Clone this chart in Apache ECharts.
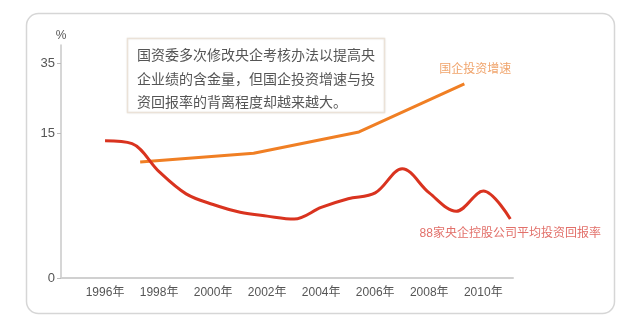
<!DOCTYPE html>
<html><head><meta charset="utf-8">
<script src="https://cdn.jsdelivr.net/npm/echarts@6/dist/echarts.min.js"></script>
<style>html,body{margin:0;padding:0;background:#fff}#c{width:640px;height:326px}</style>
</head><body><div id="c"></div>
<script>
// ---- data ----
var redName = '88家央企控股公司平均投资回报率';
var redYears = [1996,1997,1998,1999,2000,2001,2002,2003,2004,2005,2006,2007,2008,2009,2010,2011];
var redValues = [14.2,13.9,11.0,8.7,7.6,6.8,6.4,6.1,7.3,8.2,8.8,11.3,8.8,6.9,9.0,6.1];
var orangeName = '国企投资增速';
var orangeYears = [1997.3,2001.5,2005.4,2009.3];
var orangeValues = [12.0,12.9,15.3,29.0];
var yTicks = [0,15,35];
var xTickYears = [1996,1998,2000,2002,2004,2006,2008,2010];
var noteLines = ['国资委多次修改央企考核办法以提高央','企业绩的含金量，但国企投资增速与投','资回报率的背离程度却越来越大。'];

// piecewise (broken) scale of the original axis: 0–15 stretched, above 15 compressed
var BREAK = 15, UPPER = 3.5/9.667;
function disp(v){ return v <= BREAK ? v : BREAK + (v-BREAK)*UPPER; }
function undisp(d){ return d <= BREAK ? d : BREAK + (d-BREAK)/UPPER; }

var FONT = '"Liberation Sans","Noto Sans CJK SC",sans-serif';
var chart = echarts.init(document.getElementById('c'));

var redData = redYears.map(function(y,i){ return [y, disp(redValues[i])]; });
redData[redData.length-1] = {value: redData[redData.length-1], label:{show:true, position:'bottom', distance:9,
  formatter: redName, color:'#e2706a', fontSize:12, fontFamily:FONT}};
var orData = orangeYears.map(function(y,i){ return [y, disp(orangeValues[i])]; });
orData[orData.length-1] = {value: orData[orData.length-1], label:{show:true, position:'top', distance:8, offset:[11,0],
  formatter: orangeName, color:'#f0a46c', fontSize:12, fontFamily:FONT}};

chart.setOption({
  animation:false,
  backgroundColor:'#fff',
  grid:{left:61, right:127, top:45, bottom:48},
  graphic:[
    {type:'rect', z:-10, shape:{x:26.5,y:13.5,width:588,height:300,r:12},
     style:{fill:'#fff', stroke:'#d6d6d6', lineWidth:1.5}},
    {type:'rect', z:-5, shape:{x:127.5,y:38.5,width:257,height:74},
     style:{fill:'#fff', stroke:'#ebe2d8', lineWidth:1.5, shadowBlur:2, shadowColor:'rgba(0,0,0,0.06)'}},
    {type:'text', left:137, top:43, z:5,
     style:{text: noteLines.join('\n'), fill:'#555', font:'14px "Noto Sans CJK SC",sans-serif', lineHeight:23.5}}
  ],
  xAxis:{type:'value', min:1994.37, max:2011.1,
    axisLine:{show:true, lineStyle:{color:'#d0d0d0', width:2}},
    axisTick:{show:false},
    splitLine:{show:false},
    axisLabel:{customValues:xTickYears, formatter:function(v){return v+'年';}, color:'#555', fontSize:12, fontFamily:FONT, margin:9}
  },
  yAxis:{type:'value', min:0, max:24.1, name:'%', nameGap:3,
    nameTextStyle:{color:'#555', fontSize:12, fontFamily:FONT},
    axisLine:{show:true, lineStyle:{color:'#c8c8c8', width:1.5}},
    axisTick:{show:true, customValues:yTicks.map(disp), length:4, lineStyle:{color:'#bbb'}},
    splitLine:{show:false},
    axisLabel:{customValues:yTicks.map(disp), formatter:function(v){return String(Math.round(undisp(v)));},
      color:'#555', fontSize:13, fontFamily:FONT, margin:6}
  },
  series:[
    {type:'line', name:orangeName, data:orData, showSymbol:true, symbol:'circle', symbolSize:0, smooth:false,
     lineStyle:{color:'#f07f24', width:3}, itemStyle:{color:'#f07f24'}, z:3},
    {type:'line', name:redName, data:redData, showSymbol:true, symbol:'circle', symbolSize:0, smooth:0.35,
     lineStyle:{color:'#d9331f', width:3}, itemStyle:{color:'#d9331f'}, z:4}
  ]
});
</script></body></html>
